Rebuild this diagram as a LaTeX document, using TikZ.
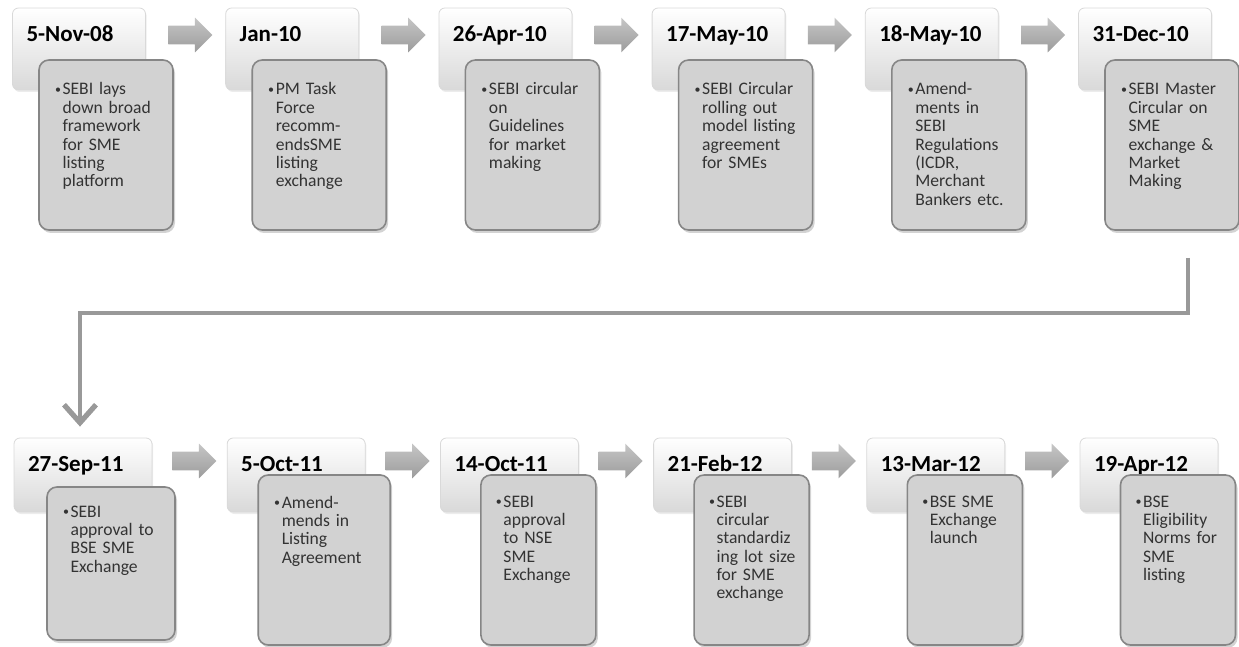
\documentclass[tikz,border=0pt]{standalone}
\usepackage{fontspec}
\setmainfont{Carlito}
\usetikzlibrary{shapes.arrows, positioning, calc, arrows.meta, shadows}

% bullet with hanging lines
\newcommand{\bul}[1]{\begin{tabular}[t]{@{}l@{\hspace{0.8pt}}l@{}}\raisebox{0.6pt}{\fontsize{6}{6}\selectfont\textbullet} & \begin{tabular}[t]{@{}l@{}}#1\end{tabular}\end{tabular}}

\begin{document}
\begin{tikzpicture}[node distance=53.3pt,
  header/.style={rectangle, rounded corners=3pt, draw=gray!30, top color=white, bottom color=gray!30,
    inner xsep=7pt, inner ysep=0pt, text width=52.5pt, align=left, text height=17pt, text depth=24pt,
    font=\fontsize{11.5}{13}\selectfont\bfseries, drop shadow={shadow xshift=0.6pt, shadow yshift=-1pt, opacity=0.15}},
  lowheader/.style={header, text width=55pt, text depth=20pt},
  detail/.style={rectangle, rounded corners=5pt, draw=gray!95, line width=0.8pt, fill=gray!35,
    inner xsep=8pt, inner ysep=0pt, text width=51pt, align=left, text height=17.5pt, text depth=67.5pt,
    text=black!80, font=\fontsize{8.8}{9.2}\selectfont, drop shadow={shadow xshift=1pt, shadow yshift=-1.5pt, opacity=0.35}},
  lowdetail/.style={detail, inner xsep=7.5pt, text width=42.5pt, text height=16pt, text depth=69pt},
  blockarrow/.style={single arrow, single arrow head extend=4pt, minimum height=22pt, minimum width=17pt,
    text height=9pt, text depth=0pt, inner sep=0pt, top color=gray!45, bottom color=gray!78, draw=none},
  flow/.style={draw=gray!80, line width=2pt, -{Straight Barb[length=9pt, width=16pt, line width=2.6pt]}}]

  \useasboundingbox (0,0) rectangle (619.5pt,-323.5pt);

  % top row
  \node[header] (h1) at (39.5pt,-24.5pt) {5-Nov-08};
  \node[detail, node distance=48pt, below of=h1, xshift=13.5pt] (d1) {\bul{SEBI lays\\down broad\\framework\\for SME\\listing\\platform}};
  \node[blockarrow, right of=h1, yshift=7pt] (a1) {};
  \node[header, right of=a1, yshift=-7pt] (h2) {Jan-10};
  \node[detail, node distance=48pt, below of=h2, xshift=13.5pt] (d2) {\bul{PM Task\\Force\\recomm-\\endsSME\\listing\\exchange}};
  \node[blockarrow, right of=h2, yshift=7pt] (a2) {};
  \node[header, right of=a2, yshift=-7pt] (h3) {26-Apr-10};
  \node[detail, node distance=48pt, below of=h3, xshift=13.5pt] (d3) {\bul{SEBI circular\\on\\Guidelines\\for market\\making}};
  \node[blockarrow, right of=h3, yshift=7pt] (a3) {};
  \node[header, right of=a3, yshift=-7pt] (h4) {17-May-10};
  \node[detail, node distance=48pt, below of=h4, xshift=13.5pt] (d4) {\bul{SEBI Circular\\rolling out\\model listing\\agreement\\for SMEs}};
  \node[blockarrow, right of=h4, yshift=7pt] (a4) {};
  \node[header, right of=a4, yshift=-7pt] (h5) {18-May-10};
  \node[detail, node distance=48pt, below of=h5, xshift=13.5pt] (d5) {\bul{Amend-\\ments in\\SEBI\\Regulations\\(ICDR,\\Merchant\\Bankers etc.}};
  \node[blockarrow, right of=h5, yshift=7pt] (a5) {};
  \node[header, right of=a5, yshift=-7pt] (h6) {31-Dec-10};
  \node[detail, node distance=48pt, below of=h6, xshift=13.5pt] (d6) {\bul{SEBI Master\\Circular on\\SME\\exchange \&\\Market\\Making}};

  % bottom row
  \node[lowheader, node distance=213pt, below of=h1, xshift=2pt] (h7) {27-Sep-11};
  \node[detail, inner xsep=8pt, text width=48pt, text height=15pt, text depth=61.5pt, node distance=44.25pt, below of=h7, xshift=14pt] (d7) {\bul{SEBI\\approval to\\BSE SME\\Exchange}};
  \node[blockarrow, right of=h7, yshift=7pt] (a7) {};
  \node[lowheader, right of=a7, yshift=-7pt] (h8) {5-Oct-11};
  \node[detail, inner xsep=8pt, text width=50pt, text height=16.5pt, text depth=68.5pt, node distance=42.5pt, below of=h8, xshift=14pt] (d8) {\bul{Amend-\\mends in\\Listing\\Agreement}};
  \node[blockarrow, right of=h8, yshift=7pt] (a8) {};
  \node[lowheader, right of=a8, yshift=-7pt] (h9) {14-Oct-11};
  \node[lowdetail, node distance=42.5pt, below of=h9, xshift=14.5pt] (d9) {\bul{SEBI\\approval\\to NSE\\SME\\Exchange}};
  \node[blockarrow, right of=h9, yshift=7pt] (a9) {};
  \node[lowheader, right of=a9, yshift=-7pt] (h10) {21-Feb-12};
  \node[lowdetail, node distance=42.5pt, below of=h10, xshift=14.5pt] (d10) {\bul{SEBI\\circular\\standardiz\\ing lot size\\for SME\\exchange}};
  \node[blockarrow, right of=h10, yshift=7pt] (a10) {};
  \node[lowheader, right of=a10, yshift=-7pt] (h11) {13-Mar-12};
  \node[lowdetail, node distance=42.5pt, below of=h11, xshift=14.5pt] (d11) {\bul{BSE SME\\Exchange\\launch}};
  \node[blockarrow, right of=h11, yshift=7pt] (a11) {};
  \node[lowheader, right of=a11, yshift=-7pt] (h12) {19-Apr-12};
  \node[lowdetail, node distance=42.5pt, below of=h12, xshift=14.5pt] (d12) {\bul{BSE\\Eligibility\\Norms for\\SME\\listing}};

  % link between the rows
  \coordinate (c1) at ($(d6.south)+(8pt,-13.5pt)$);
  \draw[flow] (c1) -- ++(0,-27.5pt) -| ([xshift=-1.5pt, yshift=5.5pt]h7.north);
\end{tikzpicture}
\end{document}
